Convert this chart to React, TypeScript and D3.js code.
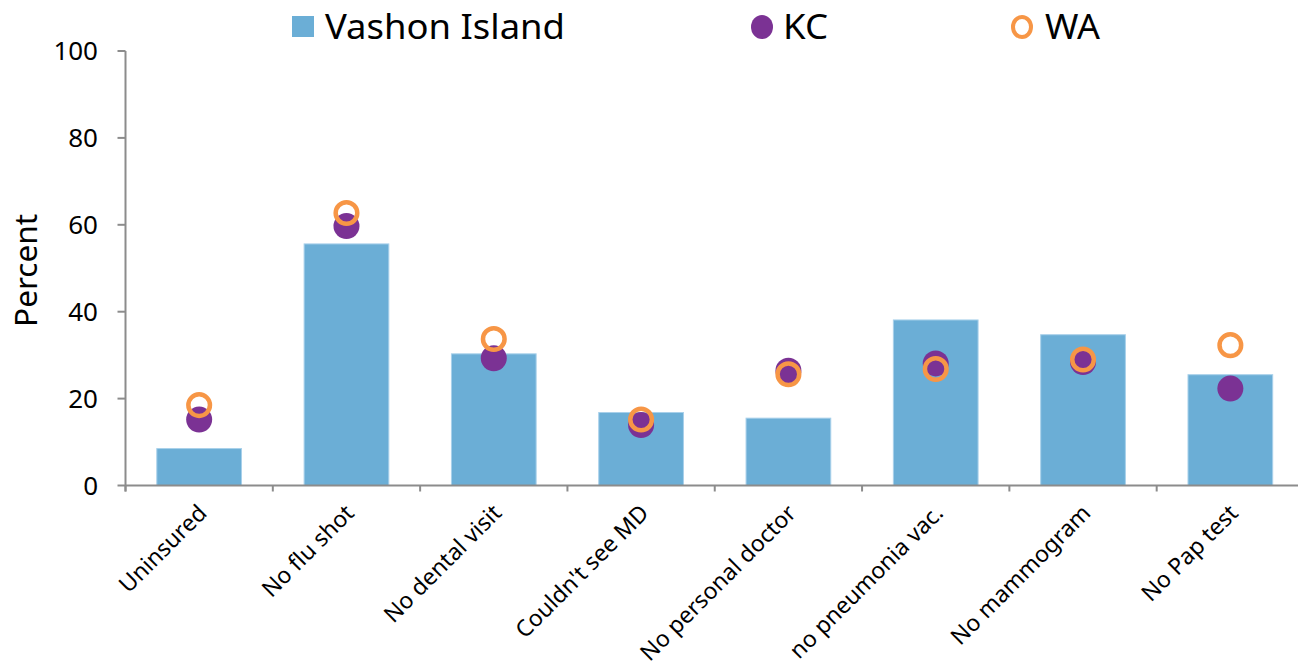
import React from 'react';
import * as d3 from 'd3';

const categories = ['Uninsured', 'No flu shot', 'No dental visit', "Couldn't see MD", 'No personal doctor', 'no pneumonia vac.', 'No mammogram', 'No Pap test'];
const vashon = [8.5, 55.6, 30.3, 16.8, 15.5, 38.1, 34.7, 25.5];
const kc = [15.2, 59.7, 29.3, 13.9, 26.4, 28.1, 28.4, 22.3];
const wa = [18.5, 62.7, 33.7, 15.2, 25.6, 26.8, 29.0, 32.3];
const yTicks = [0, 20, 40, 60, 80, 100];

const BAR = '#6baed6';
const PURPLE = '#7b3294';
const ORANGE = '#f79646';
const AXIS = '#8c8c8c';
const FONT = '"Noto Sans", "Open Sans", sans-serif';

export default function App() {
    const width = 1298;
    const height = 671;

    const xScale = d3.scaleBand<string>().domain(categories).range([125.5, 1304]).paddingInner(0.425).paddingOuter(0.2125);
    const yScale = d3.scaleLinear().domain([0, 100]).range([485.5, 51]);
    const step = xScale.step();
    const left = 125.5;

    const cx = (c: string) => (xScale(c) as number) + xScale.bandwidth() / 2;

    return (
        <svg width={width} height={height} style={{ display: 'block', position: 'absolute', left: 0, top: 0 }} fontFamily={FONT}>
            {/* bars */}
            {categories.map((c, i) => (
                <rect
                    key={c}
                    x={xScale(c)}
                    y={yScale(vashon[i])}
                    width={xScale.bandwidth()}
                    height={yScale(0) - yScale(vashon[i])}
                    fill={BAR}
                    stroke="#a8d0ea"
                    strokeWidth={1}
                />
            ))}

            {/* axes */}
            <line x1={left} x2={width} y1={yScale(0)} y2={yScale(0)} stroke={AXIS} strokeWidth={2} />
            <line x1={left} x2={left} y1={yScale(100)} y2={yScale(0) + 6} stroke={AXIS} strokeWidth={2} />
            {d3.range(0, categories.length + 1).map(i => (
                <line key={i} x1={left + i * step} x2={left + i * step} y1={yScale(0)} y2={yScale(0) + 6} stroke={AXIS} strokeWidth={2} />
            ))}
            {yTicks.map(t => (
                <g key={t}>
                    <line x1={left - 8} x2={left} y1={yScale(t)} y2={yScale(t)} stroke={AXIS} strokeWidth={2} />
                    <text x={98} y={yScale(t)} dy="0.36em" textAnchor="end" fontSize={26} fill="#000">
                        {t}
                    </text>
                </g>
            ))}
            <text transform={`translate(37, ${yScale(49.5)}) rotate(-90)`} textAnchor="middle" fontSize={30} textLength={113} lengthAdjust="spacingAndGlyphs" fill="#000">
                Percent
            </text>

            {/* category labels */}
            {categories.map(c => (
                <text
                    key={c}
                    transform={`translate(${cx(c) + 9}, ${yScale(0) + 29}) rotate(-45)`}
                    textAnchor="end"
                    fontSize={23}
                    fill="#000"
                >
                    {c}
                </text>
            ))}

            {/* KC dots */}
            {categories.map((c, i) => (
                <circle key={c} cx={cx(c)} cy={yScale(kc[i])} r={13} fill={PURPLE} />
            ))}
            {/* WA rings */}
            {categories.map((c, i) => (
                <circle key={c} cx={cx(c)} cy={yScale(wa[i])} r={10.8} fill="none" stroke={ORANGE} strokeWidth={4.5} />
            ))}

            {/* legend */}
            <g>
                <rect x={292} y={16} width={22} height={21} fill={BAR} />
                <text x={325} y={39} fontSize={34} textLength={240} lengthAdjust="spacingAndGlyphs" fill="#000">
                    Vashon Island
                </text>
                <ellipse cx={762} cy={27} rx={11} ry={12} fill={PURPLE} />
                <text x={783} y={39} fontSize={34} textLength={45} lengthAdjust="spacingAndGlyphs" fill="#000">
                    KC
                </text>
                <ellipse cx={1022} cy={27} rx={9} ry={10} fill="none" stroke={ORANGE} strokeWidth={4} />
                <text x={1045} y={39} fontSize={34} textLength={55} lengthAdjust="spacingAndGlyphs" fill="#000">
                    WA
                </text>
            </g>
        </svg>
    );
}
